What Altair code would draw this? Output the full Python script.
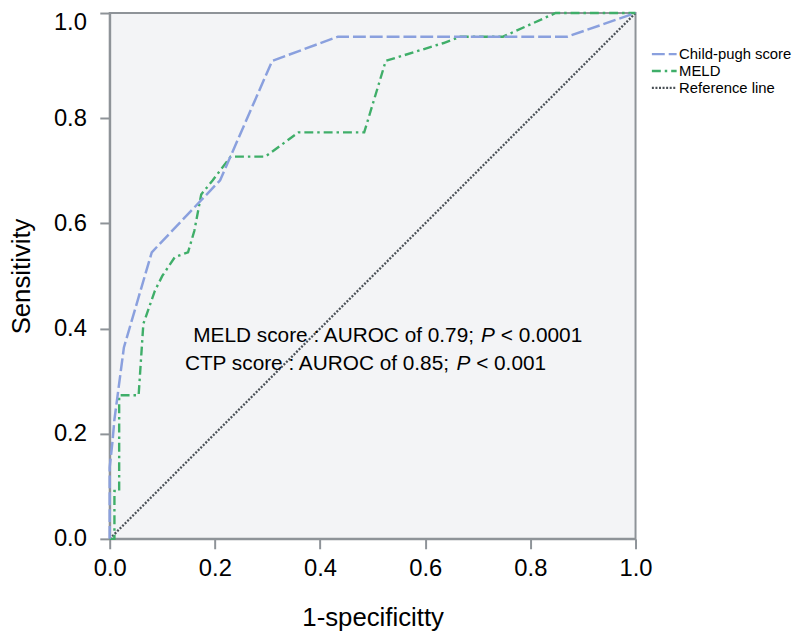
import altair as alt
import pandas as pd

# ---------------- data ----------------
series_names = ["Child-pugh score", "MELD", "Reference line"]
series_colors = ["#8aa0de", "#3fae69", "#4a5056"]
series_dashes = [[13, 4], [9, 4, 2.5, 4], [2, 1.6]]
series_widths = [2.5, 2.3, 2.0]

cp_fpr = [0.0, 0.0, 0.005, 0.009, 0.027, 0.080, 0.210, 0.309, 0.434, 0.870, 1.0]
cp_tpr = [0.0, 0.136, 0.182, 0.227, 0.364, 0.545, 0.682, 0.909, 0.955, 0.955, 1.0]

meld_fpr = [0.0, 0.009, 0.009, 0.018, 0.018, 0.055, 0.064, 0.086, 0.100, 0.124,
            0.149, 0.161, 0.174, 0.196, 0.230, 0.296, 0.359, 0.484, 0.525, 0.635,
            0.667, 0.748, 0.848, 1.0]
meld_tpr = [0.0, 0.0, 0.091, 0.091, 0.273, 0.273, 0.409, 0.472, 0.500, 0.536,
            0.545, 0.586, 0.655, 0.682, 0.727, 0.727, 0.773, 0.773, 0.909, 0.943,
            0.955, 0.955, 1.0, 1.0]

ref_fpr = [0.0, 1.0]
ref_tpr = [0.0, 1.0]

tick_values = [0.0, 0.2, 0.4, 0.6, 0.8, 1.0]

ann_pre = ["MELD score : AUROC of 0.79;", "CTP score : AUROC of 0.85;"]
ann_post = ["< 0.0001", "< 0.001"]
ann_x = [0.159, 0.143]
ann_y = [0.374, 0.322]

# ---------------- build table ----------------
rows = []
for name, xs, ys in [(series_names[2], ref_fpr, ref_tpr),
                     (series_names[1], meld_fpr, meld_tpr),
                     (series_names[0], cp_fpr, cp_tpr)]:
    for i, (a, b) in enumerate(zip(xs, ys)):
        rows.append({"series": name, "fpr": a, "tpr": b, "idx": i})
df = pd.DataFrame(rows)

FONT = "Liberation Sans, Arial, Helvetica, sans-serif"
AXIS_COL = "#8e9398"

# Arial / Liberation Sans advance widths (per 1000 em)
W = {" ": 278, ":": 278, ";": 278, ".": 278, "<": 584, "A": 667, "C": 722,
     "D": 722, "E": 667, "L": 556, "M": 833, "O": 778, "P": 667, "R": 722,
     "T": 611, "U": 722, "c": 500, "e": 556, "f": 278, "o": 556, "r": 333,
     "s": 500}
for d in "0123456789":
    W[d] = 556


def tw(s, size):
    return sum(W.get(ch, 556) for ch in s) * size / 1000.0


ANN_SIZE = 21

legend = alt.Legend(
    orient="none", legendX=552.5, legendY=34, title=None,
    symbolType="M-2,0H2", symbolSize=156, symbolStrokeWidth=2.2,
    labelFontSize=15, labelFont=FONT, labelColor="black",
    labelOffset=7.5, rowPadding=1, padding=0, symbolOffset=0,
)

xscale = alt.Scale(domain=[0, 1], nice=False, zero=False)
yscale = alt.Scale(domain=[0, 1], nice=False, zero=False)

common_axis = dict(
    values=tick_values, format=".1f", grid=False,
    domainColor=AXIS_COL, domainWidth=2, tickColor=AXIS_COL, tickWidth=2,
    tickSize=10, labelFontSize=24, labelFont=FONT, labelColor="black",
    titleFont=FONT, titleFontWeight="normal",
    titleColor="black", labelFlush=False, labelOverlap=False,
)

lines = alt.Chart(df).mark_line(strokeCap="butt").encode(
    x=alt.X("fpr:Q", scale=xscale,
            axis=alt.Axis(title="1-specificitty", labelPadding=8.5,
                          titlePadding=24, titleFontSize=26, **common_axis)),
    y=alt.Y("tpr:Q", scale=yscale,
            axis=alt.Axis(title="Sensitivity", labelPadding=13.5,
                          titlePadding=19, titleFontSize=26,
                          labelOffset={"condition": {"test": "datum.value >= 0.99",
                                                     "value": 10},
                                       "value": 0},
                          **common_axis)),
    color=alt.Color("series:N",
                    scale=alt.Scale(domain=series_names, range=series_colors),
                    sort=series_names, legend=legend),
    strokeDash=alt.StrokeDash("series:N",
                              scale=alt.Scale(domain=series_names, range=series_dashes),
                              sort=series_names, legend=legend),
    strokeWidth=alt.StrokeWidth("series:N",
                                scale=alt.Scale(domain=series_names, range=series_widths),
                                legend=None),
    order="idx:Q",
    detail="series:N",
)

layers = [lines]
for i in range(len(ann_pre)):
    adf = pd.DataFrame({"x": [ann_x[i]], "y": [ann_y[i]]})
    base = alt.Chart(adf)
    pre = ann_pre[i]
    dx_p = tw(pre + " ", ANN_SIZE)
    dx_post = tw(pre + " P ", ANN_SIZE)
    for txt, dx, style in [(pre, 0, "normal"), ("P", dx_p, "italic"),
                           (ann_post[i], dx_post, "normal")]:
        layers.append(
            base.mark_text(text=txt, align="left", baseline="alphabetic",
                           font=FONT, fontSize=ANN_SIZE, fontStyle=style,
                           color="black", dx=dx).encode(
                x=alt.X("x:Q", scale=xscale),
                y=alt.Y("y:Q", scale=yscale),
            )
        )

chart = alt.layer(*layers).properties(
    width=531, height=531,
    padding={"left": 102.7, "top": 2, "right": 158, "bottom": 94},
    autosize=alt.AutoSizeParams(type="none"),
    background="white",
).configure_view(
    fill="#f3f4f6", stroke=AXIS_COL, strokeWidth=2,
)

chart.save("out.html", embed_options={"renderer": "svg", "actions": False})
